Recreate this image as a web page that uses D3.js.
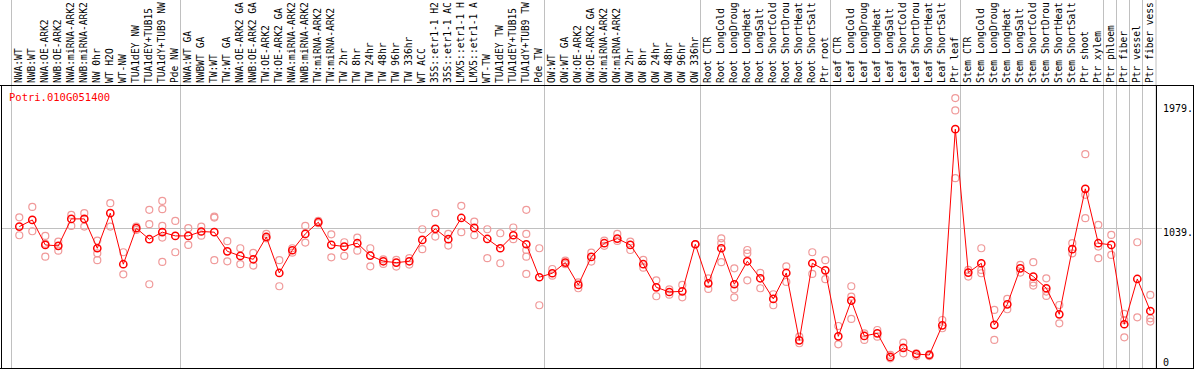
<!DOCTYPE html>
<html><head><meta charset="utf-8">
<script src="https://cdn.jsdelivr.net/npm/d3@7"></script>
<style>body{margin:0;background:#fff}svg{display:block}text{font-family:"DejaVu Sans Mono",monospace}</style>
</head><body>
<script>
const geneName = "Potri.010G051400";
const categories = [
"NWA:WT","NWB:WT","NWA:OE-ARK2","NWB:OE-ARK2","NWA:miRNA-ARK2","NWB:miRNA-ARK2","NW 0hr","WT H2O","WT-NW","TUA1dEY NW","TUA1dEY+TUB15 ","TUA1dY+TUB9 NW","Pde NW",
"NWA:WT GA","NWBWT GA","TW:WT","TW:WT GA","NWA:OE-ARK2 GA","NWB:OE-ARK2 GA","TW:OE-ARK2","TW:OE-ARK2 GA","NWA:miRNA-ARK2","NWB:miRNA-ARK2","TW:miRNA-ARK2","TW:miRNA-ARK2","TW 2hr","TW 8hr","TW 24hr","TW 48hr","TW 96hr","TW 336hr","WT ACC","35S::etr1-1 H2","35S::etr1-1 AC","LMX5::etr1-1 H","LMX5::etr1-1 A","WT-TW","TUA1dEY TW","TUA1dEY+TUB15 ","TUA1dY+TUB9 TW","Pde TW",
"OW:WT","OW:WT GA","OW:OE-ARK2","OW:OE-ARK2 GA","OW:miRNA-ARK2","OW:miRNA-ARK2","OW 2hr","OW 8hr","OW 24hr","OW 48hr","OW 96hr","OW 336hr",
"Root CTR","Root LongCold","Root LongDroug","Root LongHeat","Root LongSalt","Root ShortCold","Root ShortDrou","Root ShortHeat","Root ShortSalt","Ptr root",
"Leaf CTR","Leaf LongCold","Leaf LongDroug","Leaf LongHeat","Leaf LongSalt","Leaf ShortCold","Leaf ShortDrou","Leaf ShortHeat","Leaf ShortSalt","Ptr leaf",
"Stem CTR","Stem LongCold","Stem LongDroug","Stem LongHeat","Stem LongSalt","Stem ShortCold","Stem ShortDrou","Stem ShortHeat","Stem ShortSalt","Ptr shoot","Ptr xylem",
"Ptr phloem","Ptr fiber","Ptr vessel","Ptr fiber vess"];

const meanValues = [
1049,1099,911,904,1107,1107,886,1150,766,1037,954,1007,979,
979,1012,1007,863,828,803,971,700,871,994,1082,911,899,924,831,788,778,788,949,1032,954,1114,1039,956,886,984,916,668,
698,778,610,821,924,959,911,766,592,557,562,916,
622,886,615,788,660,505,700,193,773,720,
223,492,226,246,68,136,90,83,306,1782,
703,773,309,464,735,673,585,389,879,1333,924,
911,314,655,414];

const replicateValues = [
[1119,984],[1197,1014],[979,920,823],[936,868],[1137,1054],[1150,1049],[944,848,796],[1225,1049],[856,690],[1049,1024],[1175,1067,615],[1242,1180,1054,966,783],[1092,856],
[1037,911],[1049,981],[1124,1117,796],[939,788],[886,766],[851,756],[994,961],[796,600],[886,853],[1054,929],[1092,1074],[991,818],[931,828],[966,868],[886,750],[803,768],[798,748],[811,763],[1029,879],[1150,974],[994,906],[1205,1007],[1087,984],[1029,811],[999,773],[1042,954],[1175,994,873,823,693],[886,457],
[730,680],[793,766],[630,585],[853,786],[944,904],[994,941],[936,873],[798,740],[645,525],[577,537],[610,517],[916,916],
[660,580],[961,924,781],[735,577,517],[873,848,645],[700,585],[540,457],[750,633],[221,171],[856,693],[796,653],
[301,163],[600,522,354],[246,196],[271,221],[83,58],[176,95],[95,75],[88,75],[346,284],[2016,1923,1413],
[723,673],[886,723,698],[422,196],[505,427],[761,703],[781,628,605],[660,560,527],[459,321],[924,848],[1594,1288,1112],[1062,899,811],
[986,836],[392,346,216],[931,366],[535,359,334]];

const groupStarts = [0,13,41,53,63,73,84,85,86,87,88];
const yTicks = [1979,1039,0];

const W = 1194, H = 370;
const svg = d3.select("body").append("svg").attr("width", W).attr("height", H);

const plotTop = 85, plotBottom = 368, plotLeft = 1, plotRight = 1156;
const x = d3.scaleBand().domain(d3.range(categories.length)).range([11, 1155]).padding(0);
const px = i => x(i) + 8.3;
const y = d3.scaleLinear().domain([0, 1979]).range([366, 103]);

// gray grid lines
svg.append("g").selectAll("line").data(groupStarts).join("line")
  .attr("x1", d => d < categories.length ? x(d) : 1155.5)
  .attr("x2", d => d < categories.length ? x(d) : 1155.5)
  .attr("y1", 0).attr("y2", plotBottom)
  .attr("stroke", "#c0c0c0").attr("stroke-width", 1)
  .attr("transform", "translate(0.5,0)");

svg.append("line").attr("x1", plotLeft).attr("x2", 1162)
  .attr("y1", Math.round(y(1039)) + 0.5).attr("y2", Math.round(y(1039)) + 0.5)
  .attr("stroke", "#c0c0c0");

// frame
svg.append("line").attr("x1", 0).attr("x2", W).attr("y1", plotTop + 0.5).attr("y2", plotTop + 0.5).attr("stroke", "#000");
svg.append("line").attr("x1", 0).attr("x2", W).attr("y1", plotBottom + 0.5).attr("y2", plotBottom + 0.5).attr("stroke", "#000");
svg.append("line").attr("x1", 1.5).attr("x2", 1.5).attr("y1", plotTop).attr("y2", plotBottom + 1).attr("stroke", "#000");
svg.append("line").attr("x1", plotRight + 0.5).attr("x2", plotRight + 0.5).attr("y1", plotTop).attr("y2", plotBottom + 1).attr("stroke", "#000");
svg.append("line").attr("x1", W - 0.5).attr("x2", W - 0.5).attr("y1", plotTop).attr("y2", plotBottom + 1).attr("stroke", "#000");

// category labels
svg.append("g").selectAll("text").data(categories).join("text")
  .attr("transform", (d, i) => `translate(${px(i) + 3},83) rotate(-90)`)
  .attr("font-size", 9.6).attr("fill", "#000")
  .text(d => d);

// replicate points
const reps = [];
replicateValues.forEach((arr, i) => arr.forEach(v => reps.push({i, v})));
svg.append("g").selectAll("circle").data(reps).join("circle")
  .attr("cx", d => px(d.i)).attr("cy", d => y(d.v)).attr("r", 3.5)
  .attr("fill", "none").attr("stroke", "#f09a9a").attr("stroke-width", 1.2);

// mean line
svg.append("path").datum(meanValues)
  .attr("d", d3.line().x((d, i) => px(i)).y(d => y(d)))
  .attr("fill", "none").attr("stroke", "#ff0000").attr("stroke-width", 1);

svg.append("g").selectAll("circle").data(meanValues).join("circle")
  .attr("cx", (d, i) => px(i)).attr("cy", d => y(d)).attr("r", 3.6)
  .attr("fill", "none").attr("stroke", "#ff0000").attr("stroke-width", 1.5);

// y tick labels (right)
svg.append("g").selectAll("text").data(yTicks).join("text")
  .attr("x", 1163).attr("y", d => Math.min(y(d) + 8.5, y(0)))
  .attr("font-size", 10).attr("fill", "#000")
  .text(d => d === 0 ? "0" : d + ".");

// title
svg.append("text").attr("x", 9).attr("y", 101).attr("font-size", 10.5).attr("fill", "#ff0000").text(geneName);
</script>
</body></html>
